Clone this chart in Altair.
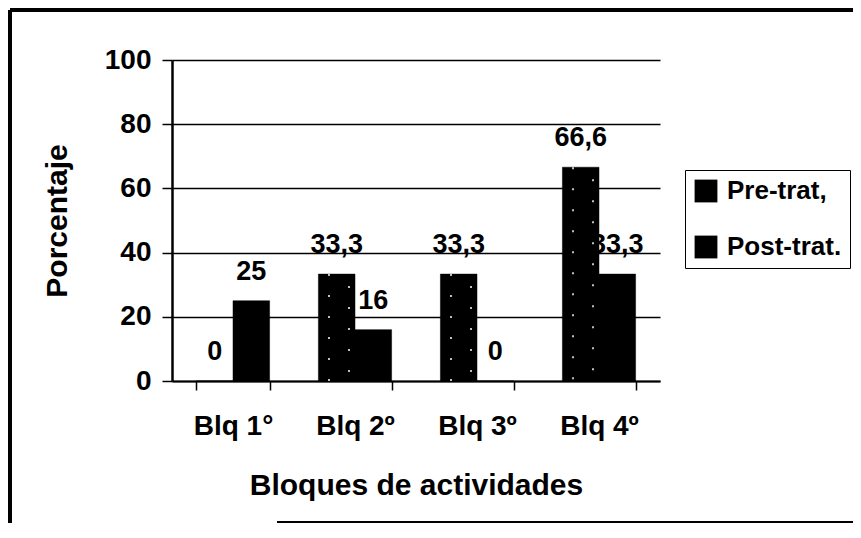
import altair as alt
import pandas as pd

bloques = ["Blq 1°", "Blq 2º", "Blq 3º", "Blq 4º"]
series = ["Pre-trat,", "Post-trat."]
pre_vals = [0, 33.3, 33.3, 66.6]
post_vals = [25, 16, 0, 33.3]


def fmt(v):
    s = ("%g" % v)
    return s.replace(".", ",")


rows = []
for b, p, q in zip(bloques, pre_vals, post_vals):
    rows.append({"bloque": b, "serie": series[0], "valor": p, "etiqueta": fmt(p)})
    rows.append({"bloque": b, "serie": series[1], "valor": q, "etiqueta": fmt(q)})
df = pd.DataFrame(rows)

FONT = "Liberation Sans"

x_enc = alt.X(
    "bloque:N",
    sort=bloques,
    scale=alt.Scale(paddingInner=0.4, paddingOuter=0.2),
    axis=alt.Axis(
        title="Bloques de actividades",
        labelAngle=0,
        tickBand="extent",
        tickSize=9,
        tickColor="black",
        tickWidth=1.5,
        domainColor="black",
        domainWidth=2,
        labelPadding=22,
        titlePadding=30,
        grid=False,
    ),
)
y_enc = alt.Y(
    "valor:Q",
    scale=alt.Scale(domain=[0, 100], nice=False),
    axis=alt.Axis(
        title="Porcentaje",
        values=[0, 20, 40, 60, 80, 100],
        tickSize=10,
        tickColor="black",
        tickWidth=1.5,
        domainColor="black",
        domainWidth=2.5,
        gridColor="black",
        gridWidth=1.5,
        gridOpacity=1,
        labelPadding=11,
        titlePadding=32,
    ),
)
xoff = alt.XOffset("serie:N", sort=series, scale=alt.Scale(paddingInner=0, paddingOuter=0))

base = alt.Chart(df)

labels = base.mark_text(
    font=FONT, fontWeight="bold", fontSize=27, baseline="alphabetic", dy=-21, color="black"
).encode(x=x_enc, y=y_enc, xOffset=xoff, text="etiqueta:N")

bars = base.mark_bar(stroke="black", strokeWidth=0.5).encode(
    x=x_enc,
    y=y_enc,
    xOffset=xoff,
    color=alt.Color(
        "serie:N",
        sort=series,
        scale=alt.Scale(domain=series, range=["black", "black"]),
        legend=alt.Legend(
            title=None,
            orient="none",
            legendX=513,
            legendY=110,
            symbolType="square",
            symbolSize=520,
            symbolStrokeWidth=0,
            labelFont=FONT,
            labelFontWeight="bold",
            labelFontSize=26,
            labelColor="black",
            labelOffset=8,
            rowPadding=30,
            padding=8,
            strokeColor="black",
            fillColor="white",
        ),
    ),
)

pre_df = df[df["serie"] == series[0]]
dots_a = alt.Chart(pre_df).mark_rule(
    color="white", strokeWidth=1.5, strokeDash=[2, 19], xOffset=-26
).encode(x=alt.X("bloque:N", sort=bloques), y=alt.Y("valor:Q"), y2=alt.datum(0))
dots_b = alt.Chart(pre_df).mark_rule(
    color="white", strokeWidth=1.5, strokeDash=[2, 19], xOffset=-6, strokeDashOffset=9
).encode(x=alt.X("bloque:N", sort=bloques), y=alt.Y("valor:Q"), y2=alt.datum(0))

frame_top = alt.Chart(df).mark_rule(color="black", strokeWidth=3).encode(
    x=alt.value(-162), x2=alt.value(681), y=alt.value(-50)
)
frame_left = alt.Chart(df).mark_rule(color="black", strokeWidth=3).encode(
    x=alt.value(-162), y=alt.value(-50), y2=alt.value(465)
)
frame_bottom = alt.Chart(df).mark_rule(color="black", strokeWidth=2).encode(
    x=alt.value(105), x2=alt.value(681), y=alt.value(462)
)

chart = (
    alt.layer(labels, bars, dots_a, dots_b, frame_top, frame_left, frame_bottom)
    .properties(
        width=488,
        height=321,
        autosize=alt.AutoSizeParams(type="none"),
        padding={"left": 164, "top": 52, "right": 193, "bottom": 142},
        background="white",
    )
    .configure_view(stroke=None)
    .configure_axis(
        labelFont=FONT,
        labelFontWeight="bold",
        labelFontSize=28,
        labelColor="black",
        titleFont=FONT,
        titleFontWeight="bold",
        titleFontSize=30,
        titleColor="black",
    )
)

chart.save("out.html", embed_options={"renderer": "svg", "actions": False})
